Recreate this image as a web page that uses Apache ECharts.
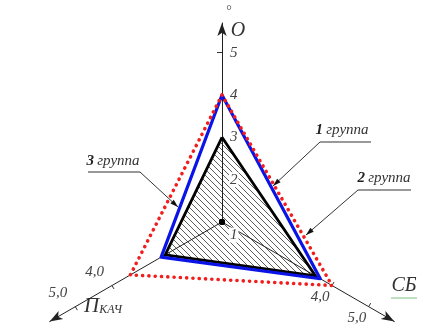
<!DOCTYPE html>
<html><head><meta charset="utf-8">
<script src="https://cdn.jsdelivr.net/npm/echarts@6/dist/echarts.min.js"></script>
<style>html,body{margin:0;padding:0;background:#fff}#c{width:436px;height:331px}</style>
</head><body><div id="c"></div>
<script>
// ---- data ----
const axisNames = ['O', 'П_КАЧ', 'СБ'];
const axisMin = 1;
const axisMax = 5.7;
const oTickLabels = [1, 2, 3, 4, 5];
const sideTickLabels = [4, 5];
const group1 = [4, 2.66, 3.68];   // 1 группа (blue)
const group2 = [4, 3.5, 4.0];     // 2 группа (red dotted)
const group3 = [3, 2.55, 3.55];   // 3 группа (black, hatched)
const originPoint = [1, 1, 1];
const groupNames = ['1 группа', '2 группа', '3 группа'];

// ---- styling helpers ----
const serif = '"Liberation Serif", "DejaVu Serif", serif';
function hatchPattern() {
  const s = 6, c = document.createElement('canvas');
  c.width = s; c.height = s;
  const g = c.getContext('2d');
  g.fillStyle = '#fff'; g.fillRect(0, 0, s, s);
  g.strokeStyle = '#4a4a4a'; g.lineWidth = 0.9;
  g.beginPath();
  for (let k = -1; k <= 1; k++) { g.moveTo(0, k * s); g.lineTo(s, s + k * s); }
  g.stroke();
  return c;
}
function arrowHead(from, to, len, half) {
  const dx = to[0] - from[0], dy = to[1] - from[1];
  const d = Math.hypot(dx, dy), ux = dx / d, uy = dy / d;
  const bx = to[0] - ux * len, by = to[1] - uy * len;
  return [[to[0], to[1]], [bx - uy * half, by + ux * half], [bx + uy * half, by - ux * half]];
}
function callout(num, textPos, under, tip) {
  const els = [];
  els.push({type: 'text', x: textPos[0], y: textPos[1], z: 10,
    style: {text: '{n|' + num + '} {t|группа}', align: 'center', verticalAlign: 'middle',
      rich: {n: {font: 'italic bold 15px ' + serif, fill: '#222'}, t: {font: 'italic 15px ' + serif, fill: '#333'}}}});
  els.push({type: 'polyline', z: 10, shape: {points: [under[1], under[0], tip]},
    style: {stroke: '#333', lineWidth: 1, fill: null}});
  els.push({type: 'polygon', z: 10, shape: {points: arrowHead(under[0], tip, 8, 2.5)}, style: {fill: '#111'}});
  return els;
}

const sideLabel = (v) => v.toFixed(1).replace('.', ',');

const indicators = [
  {name: axisNames[0], min: axisMin, max: axisMax,
    axisTick: {show: true, customValues: [5], length: 5},
    axisLabel: {show: true, customValues: oTickLabels, margin: -7, align: 'left', verticalAlign: 'middle',
      formatter: (v) => v === 1 ? '{sp| }\n{lo|1}' : '{w|' + v + '}',
      rich: {
        sp: {height: 26, fontSize: 2},
        lo: {height: 15, font: 'italic 15px ' + serif, color: '#444', backgroundColor: '#fff', padding: [0, 1]},
        w: {font: 'italic 15px ' + serif, color: '#444', backgroundColor: '#fff', padding: [0, 1]}
      }}},
  {name: axisNames[1], min: axisMin, max: axisMax,
    axisTick: {show: true, customValues: sideTickLabels, length: 4},
    axisLabel: {show: true, customValues: sideTickLabels, margin: -16, align: 'right', verticalAlign: 'middle',
      formatter: sideLabel}},
  {name: axisNames[2], min: axisMin, max: axisMax,
    axisTick: {show: true, customValues: sideTickLabels, length: 4},
    axisLabel: {show: true, customValues: sideTickLabels, margin: -5, align: 'right', verticalAlign: 'top',
      formatter: sideLabel}}
];

const chart = echarts.init(document.getElementById('c'), null, {renderer: 'canvas'});
chart.setOption({
  animation: false,
  backgroundColor: '#fff',
  radar: {
    z: 5,
    center: [222, 222],
    radius: 199,
    startAngle: 90,
    shape: 'polygon',
    splitNumber: 5,
    indicator: indicators,
    axisName: {show: false},
    axisLine: {show: true, symbol: ['none', 'arrow'], symbolSize: [7, 13],
      lineStyle: {color: '#222', width: 1}},
    axisTick: {show: true, lineStyle: {color: '#333', width: 1}},
    axisLabel: {show: true, fontFamily: serif, fontStyle: 'italic', fontSize: 15, color: '#444'},
    splitLine: {show: false},
    splitArea: {show: false}
  },
  series: [
    {type: 'radar', name: groupNames[2] + ' fill', symbol: 'none', z: 2,
      lineStyle: {width: 0, opacity: 0},
      areaStyle: {color: {image: hatchPattern(), repeat: 'repeat'}, opacity: 1},
      data: [{name: groupNames[2], value: group3}]},
    {type: 'radar', name: groupNames[2], symbol: 'none', z: 6,
      lineStyle: {color: '#000', width: 2.8, join: 'miter'},
      data: [{name: groupNames[2], value: group3}]},
    {type: 'radar', name: groupNames[0], symbol: 'none', z: 7,
      lineStyle: {color: '#0a14e6', width: 3.2},
      data: [{name: groupNames[0], value: group1}]},
    {type: 'radar', name: groupNames[1], symbol: 'none', z: 8,
      lineStyle: {color: '#f21d1d', width: 3.6, type: [0.1, 6.2], cap: 'round'},
      data: [{name: groupNames[1], value: group2}]},
    {type: 'radar', name: 'origin', symbol: 'circle', symbolSize: 6, z: 9,
      itemStyle: {color: '#000'}, lineStyle: {width: 0, opacity: 0},
      data: [{name: 'origin', value: originPoint}]}
  ],
  graphic: [
    {type: 'text', x: 238, y: 31, style: {text: 'O', font: 'italic 20px ' + serif, fill: '#333', align: 'center', verticalAlign: 'middle'}},
    {type: 'text', x: 229, y: 11, style: {text: '°', font: '14px ' + serif, fill: '#555', align: 'center', verticalAlign: 'middle'}},
    {type: 'text', x: 103, y: 306, style: {text: '{a|П}{b|КАЧ}', align: 'center', verticalAlign: 'middle',
      rich: {a: {font: 'italic 21px ' + serif, fill: '#333'}, b: {font: 'italic 12px ' + serif, fill: '#333', padding: [8, 0, 0, 0]}}}},
    {type: 'text', x: 404, y: 286, style: {text: 'СБ', font: 'italic 20px ' + serif, fill: '#333', align: 'center', verticalAlign: 'middle'}},
    {type: 'line', shape: {x1: 391, y1: 298, x2: 417, y2: 298}, style: {stroke: '#7fc27f', lineWidth: 1}},
    ...callout('1', [342, 130], [[320, 142], [371, 142]], [273, 186]),
    ...callout('2', [384, 178], [[358, 190], [411, 190]], [306, 235]),
    ...callout('3', [113, 161], [[140, 172], [88, 172]], [178, 207])
  ]
});
</script></body></html>
